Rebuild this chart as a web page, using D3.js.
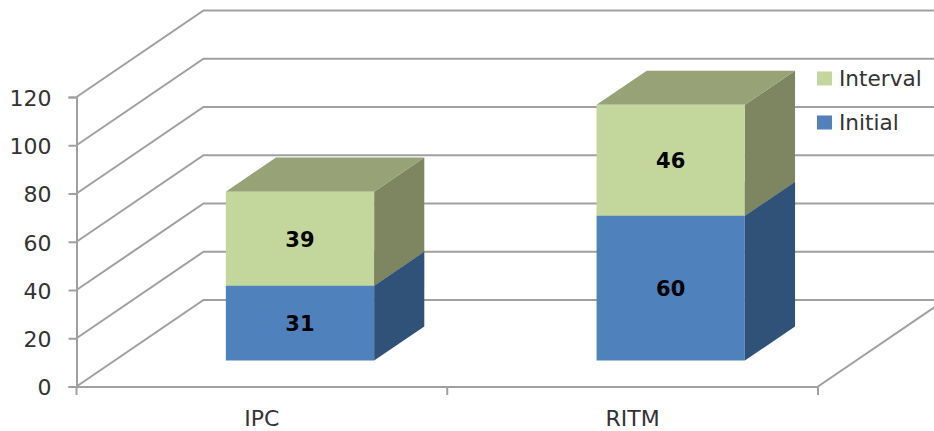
<!DOCTYPE html>
<html>
<head>
<meta charset="utf-8">
<script src="https://cdn.jsdelivr.net/npm/d3@7/dist/d3.min.js"></script>
<style>
html, body { margin: 0; padding: 0; background: #fff; }
svg { display: block; }
text { font-family: "DejaVu Sans", sans-serif; fill: #333; }
</style>
</head>
<body>
<svg id="chart" width="934" height="431"></svg>
<script>
// Stacked 3D column chart: Initial + Interval per category
const categories = ["IPC", "RITM"];
const seriesNames = ["Initial", "Interval"];
const initialValues = [31, 60];
const intervalValues = [39, 46];
const yTicks = [0, 20, 40, 60, 80, 100, 120];

const frontColors = { Initial: "#4f81bd", Interval: "#c3d69b" };
const sideColors  = { Initial: "#315278", Interval: "#7d8660" };
const topColors   = { Initial: "#3f6797", Interval: "#97a277" };
const gridColor = "#a0a0a0";

const width = 934, height = 431;
const svg = d3.select("#chart");

const x = d3.scaleBand().domain(categories).range([76.5, 818]).paddingInner(0.6).paddingOuter(0.3);
const y = d3.scaleLinear().domain([0, 120]).range([386.5, 97]);

// Oblique projection: depth 0 is the front plane, depth 1 the back wall
const depthX = 127, depthY = -86.5;
const project = (px, value, depth) => [px + depthX * depth, y(value) + depthY * depth];
const barFront = 0.3, barBack = 0.695;

const line = d3.line();
const plot = svg.append("g");

// Side wall and back wall gridlines
plot.append("g").selectAll("path").data(yTicks).join("path")
  .attr("fill", "none")
  .attr("stroke", gridColor)
  .attr("stroke-width", 2)
  .attr("d", v => line([project(76.5, v, 0), project(76.5, v, 1), project(818, v, 1)]));

// Right edge of the floor
plot.append("path")
  .attr("fill", "none").attr("stroke", gridColor).attr("stroke-width", 2)
  .attr("d", line([project(818, 0, 0), project(818, 0, 1)]));

// Value axis
const yAxis = svg.append("g")
  .attr("transform", "translate(76.5,0)")
  .call(d3.axisLeft(y).tickValues(yTicks).tickSize(8).tickPadding(17));
yAxis.selectAll("text").attr("dy", "0.38em");

// Category axis: ticks sit on the band boundaries
const xAxis = svg.append("g")
  .attr("transform", "translate(0,386.5)")
  .call(d3.axisBottom(x).tickSize(0).tickPadding(24));
xAxis.selectAll(".tick line").remove();
xAxis.append("g").selectAll("line")
  .data([x.range()[0], (x.range()[0] + x.range()[1]) / 2, x.range()[1]])
  .join("line")
  .attr("x1", d => d).attr("x2", d => d).attr("y1", 0).attr("y2", 8.5)
  .attr("stroke", gridColor).attr("stroke-width", 2);

[yAxis, xAxis].forEach(a => {
  a.select(".domain").attr("stroke", gridColor).attr("stroke-width", 2);
  a.selectAll(".tick line").attr("stroke", gridColor).attr("stroke-width", 2);
  a.selectAll("text").style("font-family", '"DejaVu Sans", sans-serif')
    .style("font-size", "22px").style("fill", "#333");
});

// Stacked series
const rows = categories.map((c, i) => ({ category: c, Initial: initialValues[i], Interval: intervalValues[i] }));
const stacked = d3.stack().keys(seriesNames)(rows);

stacked.forEach(layer => {
  const name = layer.key;
  const g = svg.append("g");
  layer.forEach(d => {
    const cat = d.data.category;
    const x0 = x(cat), x1 = x0 + x.bandwidth();
    const poly = pts => g.append("path").attr("d", line(pts) + "Z");

    poly([project(x1, d[0], barFront), project(x1, d[0], barBack), project(x1, d[1], barBack), project(x1, d[1], barFront)])
      .attr("fill", sideColors[name]);
    poly([project(x0, d[1], barFront), project(x1, d[1], barFront), project(x1, d[1], barBack), project(x0, d[1], barBack)])
      .attr("fill", topColors[name]);
    poly([project(x0, d[0], barFront), project(x1, d[0], barFront), project(x1, d[1], barFront), project(x0, d[1], barFront)])
      .attr("fill", frontColors[name]);

    const c = project((x0 + x1) / 2, (d[0] + d[1]) / 2, barFront);
    g.append("text")
      .attr("x", c[0]).attr("y", c[1]).attr("dy", "0.38em")
      .attr("text-anchor", "middle")
      .style("font-size", "21px").style("font-weight", "bold").style("fill", "#000")
      .text(d.data[name]);
  });
});

// Legend, Interval listed first
const legendY = d3.scalePoint().domain(["Interval", "Initial"]).range([78.5, 122.5]);
const legend = svg.append("g").selectAll("g").data(legendY.domain()).join("g")
  .attr("transform", d => `translate(817,${legendY(d)})`);
legend.append("rect")
  .attr("x", 0).attr("y", -7).attr("width", 15).attr("height", 14)
  .attr("fill", d => frontColors[d]);
legend.append("text")
  .attr("x", 22).attr("dy", "0.36em")
  .style("font-size", "21.6px")
  .text(d => d);
</script>
</body>
</html>
